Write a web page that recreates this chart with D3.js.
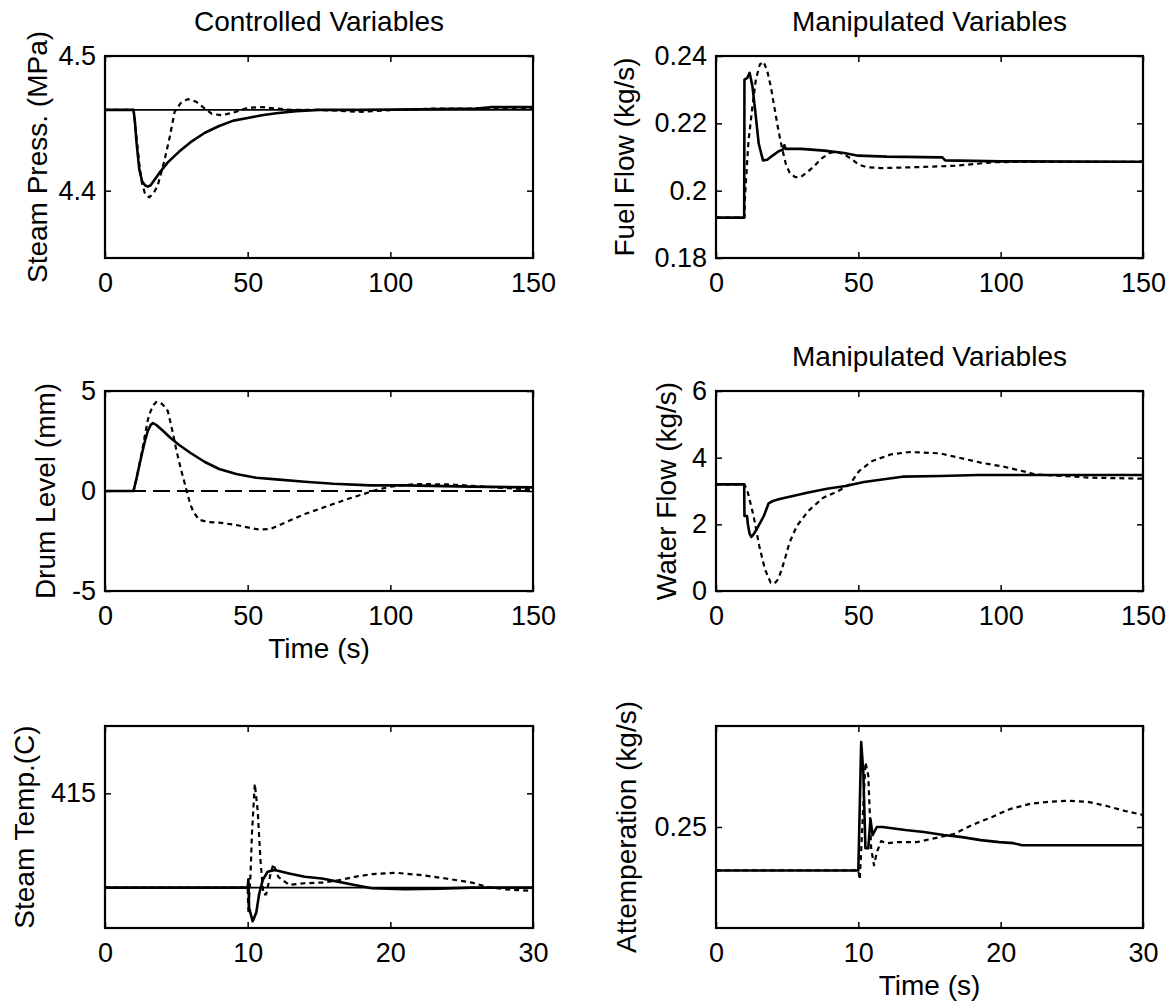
<!DOCTYPE html>
<html><head><meta charset="utf-8">
<script src="https://cdn.jsdelivr.net/npm/d3@7"></script>
<style>
html,body{margin:0;padding:0;background:#fff;}
svg{display:block;font-family:"Liberation Sans",Arial,Helvetica,sans-serif;}
</style></head>
<body>
<svg id="chart" width="1171" height="1002"></svg>
<script>
// ---------- DATA ----------
// Steam pressure (MPa)
const pressSetT = [0, 150];
const pressSetV = [4.46, 4.46];
const pressSolidT = [0, 10, 10.5, 11, 12, 13, 14, 15, 16, 17, 19, 22, 26, 30, 35, 40, 45, 50, 55, 60, 67, 75, 90, 110, 130, 135, 150];
const pressSolidV = [4.46, 4.46, 4.451, 4.437, 4.416, 4.407, 4.404, 4.403, 4.404, 4.407, 4.413, 4.421, 4.429, 4.436, 4.443, 4.448, 4.452, 4.454, 4.456, 4.4575, 4.459, 4.46, 4.46, 4.4605, 4.461, 4.462, 4.462];
const pressDashT = [0, 10, 11, 12, 13, 14, 15.5, 17, 18.5, 20.9, 22.7, 24.4, 26.5, 29, 32, 35, 37.5, 41, 45, 50, 55, 60, 65, 75, 90, 100, 116, 150];
const pressDashV = [4.46, 4.46, 4.44, 4.42, 4.405, 4.398, 4.395, 4.398, 4.404, 4.423, 4.44, 4.4585, 4.465, 4.468, 4.466, 4.461, 4.457, 4.456, 4.458, 4.4615, 4.462, 4.461, 4.46, 4.46, 4.4585, 4.4598, 4.461, 4.461];

// Fuel flow (kg/s)
const fuelSolidT = [0, 9.9, 10, 11, 11.8, 12.8, 14, 15, 16.5, 18, 20, 22, 23.5, 24, 24.5, 30, 38, 45, 50, 60, 79.5, 80.5, 100, 150];
const fuelSolidV = [0.192, 0.192, 0.233, 0.2335, 0.235, 0.231, 0.222, 0.214, 0.209, 0.2092, 0.2105, 0.2117, 0.2122, 0.2135, 0.2124, 0.2124, 0.2119, 0.2112, 0.2104, 0.2101, 0.2099, 0.209, 0.2087, 0.2086];
const fuelDashT = [0, 10, 10.1, 11.4, 12.7, 14, 15.4, 16.7, 18, 19.3, 20.6, 21.9, 23.2, 24.6, 25.9, 27.8, 29.8, 31.8, 34.4, 37, 39.7, 42.3, 44.9, 47.5, 50.2, 52.8, 58, 71, 84, 92, 97.5, 150];
const fuelDashV = [0.192, 0.192, 0.197, 0.2146, 0.2243, 0.233, 0.2375, 0.2383, 0.2356, 0.2307, 0.2243, 0.218, 0.2126, 0.2077, 0.2053, 0.204, 0.2041, 0.2053, 0.2072, 0.2095, 0.2111, 0.2116, 0.2108, 0.2095, 0.2077, 0.207, 0.2067, 0.207, 0.2074, 0.208, 0.2085, 0.2086];

// Drum level (mm)
const drumSetT = [0, 150];
const drumSetV = [0, 0];
const drumSolidT = [0, 10, 11, 12, 13, 14, 15, 16, 16.8, 18, 20, 23, 26, 30, 35, 40, 46, 53, 60, 70, 80, 93, 105, 128, 150];
const drumSolidV = [0, 0, 0.6, 1.25, 1.9, 2.5, 3.0, 3.3, 3.4, 3.3, 3.05, 2.65, 2.3, 1.9, 1.45, 1.1, 0.85, 0.66, 0.58, 0.46, 0.36, 0.28, 0.28, 0.22, 0.18];
const drumDashT = [0, 10, 11, 12, 13, 14, 15, 16, 17, 18, 19, 20, 21, 22, 23, 24, 25, 26, 27, 28, 29, 30, 31, 33, 36, 40, 46, 50, 54, 58, 62, 66, 70, 75, 80, 85, 90, 95, 100, 105, 110, 120, 130, 140, 150];
const drumDashV = [0, 0, 0.6, 1.3, 2.0, 2.8, 3.55, 4.0, 4.3, 4.45, 4.45, 4.35, 4.2, 4.0, 3.4, 2.75, 2.05, 1.45, 0.88, 0.35, -0.2, -0.7, -1.05, -1.44, -1.55, -1.58, -1.7, -1.82, -1.93, -1.9, -1.65, -1.4, -1.15, -0.9, -0.65, -0.4, -0.18, 0.05, 0.22, 0.3, 0.35, 0.33, 0.25, 0.15, 0.08];

// Water flow (kg/s)
const waterSolidT = [0, 9.9, 10, 10.9, 11.2, 11.8, 12.4, 13.2, 13.9, 15.2, 16.8, 18.5, 20, 22, 27, 32, 39, 45.5, 52, 59, 65.5, 79, 92, 150];
const waterSolidV = [3.2, 3.2, 2.25, 2.25, 2.0, 1.72, 1.62, 1.7, 1.8, 2.0, 2.25, 2.63, 2.7, 2.75, 2.85, 2.95, 3.07, 3.15, 3.27, 3.35, 3.43, 3.45, 3.48, 3.48];
const waterDashT = [0, 10, 11.2, 13.2, 15.2, 17.2, 19.2, 20.5, 21.8, 23.1, 24.5, 25.8, 28.4, 32.4, 37.7, 43, 47, 50.3, 54.9, 61.5, 68, 78.7, 85.3, 93, 101, 109, 112, 122, 131.6, 150];
const waterDashV = [3.2, 3.2, 2.95, 2.25, 1.35, 0.65, 0.25, 0.22, 0.35, 0.65, 1.05, 1.45, 1.95, 2.4, 2.8, 3.0, 3.2, 3.6, 3.9, 4.1, 4.17, 4.13, 4.0, 3.85, 3.73, 3.57, 3.5, 3.45, 3.4, 3.37];

// Steam temperature (C)
const tempSetT = [0, 30];
const tempSetV = [412.2, 412.2];
const tempSolidT = [0, 10, 10.05, 10.1, 10.35, 10.6, 10.8, 11.05, 11.4, 11.9, 12.9, 14, 15.2, 16.4, 17.5, 18.7, 21, 23.4, 25.7, 30];
const tempSolidV = [412.2, 412.2, 412.45, 411.6, 411.2, 411.45, 412.0, 412.42, 412.67, 412.72, 412.62, 412.52, 412.47, 412.37, 412.28, 412.18, 412.15, 412.17, 412.2, 412.2];
const tempDashT = [0, 10, 10.05, 10.2, 10.3, 10.5, 10.7, 10.9, 11.1, 11.3, 11.6, 11.8, 12.15, 12.9, 14, 15.2, 16.4, 17.5, 18.7, 20.4, 22.2, 23.9, 25.7, 26.9, 28.1, 30];
const tempDashV = [412.2, 412.2, 411.5, 412.6, 413.8, 415.28, 414.5, 413.0, 412.0, 412.0, 412.6, 412.9, 412.52, 412.28, 412.33, 412.35, 412.42, 412.52, 412.6, 412.64, 412.57, 412.47, 412.35, 412.21, 412.15, 412.1];

// Attemperation (kg/s)
const attSolidT = [0, 10, 10.2, 10.35, 10.5, 10.7, 10.85, 11.0, 11.3, 11.7, 13.3, 14.6, 16, 17.3, 18.6, 19.9, 20.9, 21.5, 30];
const attSolidV = [0.2457, 0.2457, 0.2584, 0.2554, 0.2479, 0.2479, 0.2508, 0.2492, 0.25, 0.25, 0.2497, 0.2495, 0.2492, 0.249, 0.2487, 0.2485, 0.2484, 0.2482, 0.2482];
const attDashT = [0, 10, 10.1, 10.5, 10.7, 10.9, 11.1, 11.3, 11.6, 12, 12.8, 14.1, 15.4, 16.7, 18, 19.4, 20.7, 22.1, 23.4, 24.7, 26.1, 27.4, 28.7, 30];
const attDashV = [0.2457, 0.2457, 0.2448, 0.2564, 0.2551, 0.2479, 0.2462, 0.2475, 0.2486, 0.2484, 0.2485, 0.2485, 0.2489, 0.2493, 0.2502, 0.251, 0.2518, 0.2523, 0.2525, 0.2526, 0.2525, 0.2521, 0.2516, 0.2512];

// Tick values / labels
const xTicksLong = [0, 50, 100, 150];
const xTicksShort = [0, 10, 20, 30];
const pressTicks = [4.4, 4.5];
const fuelTicks = [0.18, 0.2, 0.22, 0.24];
const drumTicks = [-5, 0, 5];
const waterTicks = [0, 2, 4, 6];
const tempTicks = [415];
const attTicks = [0.25];

// ---------- LAYOUT ----------
const svg = d3.select("#chart");
const colL = {x0: 105, x1: 533}, colR = {x0: 716, x1: 1143};
const rows = [{y0: 56, y1: 258}, {y0: 391, y1: 591}, {y0: 726, y1: 928}];
const FS_TICK = 27, FS_LAB = 28;

const zip = (t, v) => t.map((d, i) => [d, v[i]]);

const panels = [
  {col: colL, row: rows[0], xd: [0, 150], xt: xTicksLong, yd: [4.35, 4.5], yt: pressTicks, yfmt: d => d3.format(".1f")(d),
   ylabel: "Steam Press. (MPa)", ylx: 37, title: "Controlled Variables",
   series: [{d: zip(pressSetT, pressSetV), style: "set"}, {d: zip(pressSolidT, pressSolidV), style: "solid"}, {d: zip(pressDashT, pressDashV), style: "dash"}]},
  {col: colR, row: rows[0], xd: [0, 150], xt: xTicksLong, yd: [0.18, 0.24], yt: fuelTicks, yfmt: d => String(+d.toFixed(2)),
   ylabel: "Fuel Flow (kg/s)", ylx: 624, title: "Manipulated Variables",
   series: [{d: zip(fuelSolidT, fuelSolidV), style: "solid"}, {d: zip(fuelDashT, fuelDashV), style: "dash"}]},
  {col: colL, row: rows[1], xd: [0, 150], xt: xTicksLong, yd: [-5, 5], yt: drumTicks, yfmt: d => String(d),
   ylabel: "Drum Level (mm)", ylx: 45, xlabel: "Time (s)",
   series: [{d: zip(drumSetT, drumSetV), style: "longdash"}, {d: zip(drumSolidT, drumSolidV), style: "solid"}, {d: zip(drumDashT, drumDashV), style: "dash"}]},
  {col: colR, row: rows[1], xd: [0, 150], xt: xTicksLong, yd: [0, 6], yt: waterTicks, yfmt: d => String(d),
   ylabel: "Water Flow (kg/s)", ylx: 666, title: "Manipulated Variables",
   series: [{d: zip(waterSolidT, waterSolidV), style: "solid"}, {d: zip(waterDashT, waterDashV), style: "dash"}]},
  {col: colL, row: rows[2], xd: [0, 30], xt: xTicksShort, yd: [411, 417], yt: tempTicks, yfmt: d => String(d),
   ylabel: "Steam Temp.(C)", ylx: 24,
   series: [{d: zip(tempSetT, tempSetV), style: "set"}, {d: zip(tempSolidT, tempSolidV), style: "solid"}, {d: zip(tempDashT, tempDashV), style: "dash"}]},
  {col: colR, row: rows[2], xd: [0, 30], xt: xTicksShort, yd: [0.24, 0.26], yt: attTicks, yfmt: d => String(d),
   ylabel: "Attemperation (kg/s)", ylx: 626, xlabel: "Time (s)",
   series: [{d: zip(attSolidT, attSolidV), style: "solid"}, {d: zip(attDashT, attDashV), style: "dash"}]}
];

const styles = {
  solid: {w: 2.6, dash: null},
  dash: {w: 2.2, dash: "5,4"},
  set: {w: 1.6, dash: null},
  longdash: {w: 2.2, dash: "17,7"}
};

panels.forEach((p, i) => {
  const x = d3.scaleLinear().domain(p.xd).range([p.col.x0, p.col.x1]);
  const y = d3.scaleLinear().domain(p.yd).range([p.row.y1, p.row.y0]);
  const g = svg.append("g");
  const clipId = "clip" + i;
  g.append("clipPath").attr("id", clipId).append("rect")
    .attr("x", p.col.x0).attr("y", p.row.y0 - 1)
    .attr("width", p.col.x1 - p.col.x0).attr("height", p.row.y1 - p.row.y0 + 2);

  const line = d3.line().x(d => x(d[0])).y(d => y(d[1])).curve(d3.curveLinear);
  const plot = g.append("g").attr("clip-path", `url(#${clipId})`);
  p.series.forEach(s => {
    const st = styles[s.style];
    plot.append("path").datum(s.d).attr("d", line)
      .attr("fill", "none").attr("stroke", "#000")
      .attr("stroke-width", st.w)
      .attr("stroke-dasharray", st.dash)
      .attr("stroke-linejoin", "round");
  });

  // axes (ticks inward)
  const ax = (gen, tr) => {
    const a = g.append("g").attr("transform", tr).call(gen);
    a.select(".domain").remove();
    a.selectAll("line").attr("stroke", "#000").attr("stroke-width", 1.5);
    a.selectAll("text").attr("font-size", FS_TICK).attr("fill", "#000")
      .attr("font-family", '"Liberation Sans",Arial,sans-serif');
    a.attr("font-size", null).attr("font-family", null);
    return a;
  };
  ax(d3.axisBottom(x).tickValues(p.xt).tickSizeInner(-6).tickSizeOuter(0).tickPadding(15).tickFormat(d3.format("d")),
     `translate(0,${p.row.y1})`);
  ax(d3.axisTop(x).tickValues(p.xt).tickSizeInner(-6).tickSizeOuter(0).tickFormat(""),
     `translate(0,${p.row.y0})`);
  ax(d3.axisLeft(y).tickValues(p.yt).tickSizeInner(-6).tickSizeOuter(0).tickPadding(9).tickFormat(p.yfmt),
     `translate(${p.col.x0},0)`);
  ax(d3.axisRight(y).tickValues(p.yt).tickSizeInner(-6).tickSizeOuter(0).tickFormat(""),
     `translate(${p.col.x1},0)`);

  // box
  g.append("rect").attr("x", p.col.x0).attr("y", p.row.y0)
    .attr("width", p.col.x1 - p.col.x0).attr("height", p.row.y1 - p.row.y0)
    .attr("fill", "none").attr("stroke", "#000").attr("stroke-width", 2.2);

  const cx = (p.col.x0 + p.col.x1) / 2, cy = (p.row.y0 + p.row.y1) / 2;
  g.append("text").attr("transform", `translate(${p.ylx},${cy}) rotate(-90)`)
    .attr("text-anchor", "middle").attr("dy", "0.35em")
    .attr("font-size", FS_LAB).text(p.ylabel);
  if (p.title) {
    g.append("text").attr("x", cx).attr("y", p.row.y0 - 25)
      .attr("text-anchor", "middle").attr("font-size", FS_LAB).text(p.title);
  }
  if (p.xlabel) {
    g.append("text").attr("x", cx).attr("y", p.row.y1 + 67)
      .attr("text-anchor", "middle").attr("font-size", FS_LAB).text(p.xlabel);
  }
});
</script>
</body></html>
